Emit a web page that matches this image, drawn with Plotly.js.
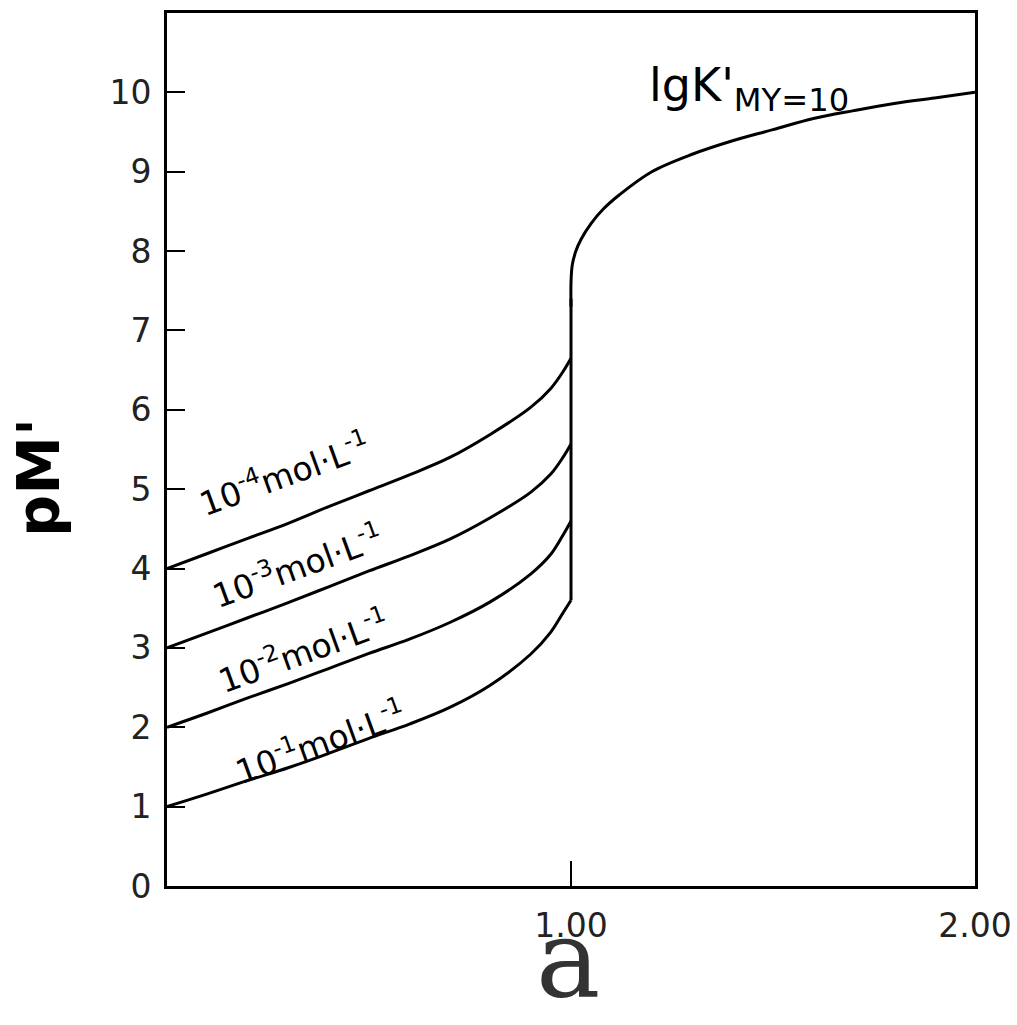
<!DOCTYPE html>
<html>
<head>
<meta charset="utf-8">
<script src="https://cdn.plot.ly/plotly-3.0.1.min.js"></script>
<style>html,body{margin:0;padding:0;background:#fff;}#chart{width:1017px;height:1025px;}</style>
</head>
<body>
<div id="chart"></div>
<script>
// Titrant fraction a (before the equivalence point)
const aBefore = [0, 0.1, 0.2, 0.3, 0.4, 0.5, 0.6, 0.7, 0.8, 0.9, 0.95, 0.98, 1.0];
// pM' for each metal concentration
const pM_1e4 = [4.00, 4.19, 4.38, 4.57, 4.78, 4.98, 5.18, 5.40, 5.69, 6.03, 6.27, 6.48, 6.65];
const pM_1e3 = [3.00, 3.19, 3.38, 3.57, 3.77, 3.97, 4.16, 4.37, 4.64, 4.96, 5.19, 5.40, 5.57];
const pM_1e2 = [2.00, 2.18, 2.37, 2.55, 2.74, 2.93, 3.11, 3.32, 3.58, 3.93, 4.18, 4.42, 4.60];
const pM_1e1 = [1.00, 1.16, 1.33, 1.49, 1.67, 1.86, 2.04, 2.25, 2.53, 2.92, 3.20, 3.44, 3.60];
// Vertical jump at the equivalence point
const aJump = [1.0, 1.0];
const pM_jump = [3.6, 7.4];
// Excess-titrant branch (common to all concentrations)
const aAfter = [1.0, 1.0, 1.003, 1.012, 1.025, 1.05, 1.08, 1.12, 1.2, 1.3, 1.4, 1.5, 1.6, 1.7, 1.8, 1.9, 2.0];
const pM_after = [7.3, 7.6, 7.82, 8.0, 8.15, 8.35, 8.53, 8.71, 9.0, 9.22, 9.39, 9.53, 9.67, 9.77, 9.86, 9.93, 10.0];

const curveLabels = ["10<sup>-4</sup>mol·L<sup>-1</sup>", "10<sup>-3</sup>mol·L<sup>-1</sup>", "10<sup>-2</sup>mol·L<sup>-1</sup>", "10<sup>-1</sup>mol·L<sup>-1</sup>"];
const labelX = [0.29, 0.322, 0.337, 0.379];
const labelY = [5.2, 4.04, 2.97, 1.82];
const yTicks = [0,1,2,3,4,5,6,7,8,9,10];
const xTicks = [1, 2];
const xTickText = ["1.00", "2.00"];
const xTitle = "a";
const yTitle = "pM'";

const series = [pM_1e4, pM_1e3, pM_1e2, pM_1e1];
const traces = series.map((s, i) => ({
  x: aBefore, y: s, mode: 'lines',
  line: {color: '#000', width: 3, shape: 'spline', smoothing: 1},
  hoverinfo: 'skip', name: curveLabels[i]
}));
traces.push({x: aJump, y: pM_jump, mode: 'lines', line: {color: '#000', width: 3}, hoverinfo: 'skip', name: 'jump'});
traces.push({x: aAfter, y: pM_after, mode: 'lines', line: {color: '#000', width: 3, shape: 'spline', smoothing: 1}, hoverinfo: 'skip', name: 'after'});

const annotations = curveLabels.map((t, i) => ({
  x: labelX[i], y: labelY[i], xref: 'x', yref: 'y', text: t, showarrow: false,
  textangle: -20, font: {family: 'DejaVu Sans', size: 33, color: '#000'}
}));
annotations.push({
  x: 1.44, y: 10.05, xref: 'x', yref: 'y', showarrow: false,
  text: "lgK'<sub>MY=10</sub>", font: {family: 'DejaVu Sans', size: 46, color: '#000'}
});
// axis titles placed as annotations so they can sit where the reference has them
annotations.push({
  x: 0.496, y: -0.157, xref: 'paper', yref: 'paper', xanchor: 'center', yanchor: 'bottom',
  showarrow: false, text: xTitle, font: {family: 'DejaVu Serif', size: 108, color: '#333'}
});
annotations.push({
  x: -0.1585, y: 0.4685, xref: 'paper', yref: 'paper', xanchor: 'center', yanchor: 'middle',
  showarrow: false, textangle: -90, text: "<b>" + yTitle + "</b>",
  font: {family: 'DejaVu Sans', size: 59, color: '#000'}
});

const layout = {
  width: 1017, height: 1025,
  margin: {l: 167, r: 42, t: 13, b: 139},
  paper_bgcolor: '#fff', plot_bgcolor: '#fff',
  showlegend: false,
  xaxis: {
    range: [0, 2], tickvals: xTicks, ticktext: xTickText,
    ticks: 'inside', ticklen: 25, tickwidth: 2, tickcolor: '#000',
    showline: true, linecolor: '#000', linewidth: 3, mirror: true,
    showgrid: false, zeroline: false, ticklabelstandoff: 8,
    tickfont: {family: 'DejaVu Sans', size: 33, color: '#222'}
  },
  yaxis: {
    range: [0, 11], tickvals: yTicks,
    ticks: 'inside', ticklen: 18, tickwidth: 2, tickcolor: '#000',
    showline: true, linecolor: '#000', linewidth: 3, mirror: true,
    showgrid: false, zeroline: false, ticklabelstandoff: 6,
    tickfont: {family: 'DejaVu Sans', size: 33, color: '#222'}
  },
  annotations: annotations
};

Plotly.newPlot('chart', traces, layout, {staticPlot: true, displayModeBar: false});
</script>
</body>
</html>
